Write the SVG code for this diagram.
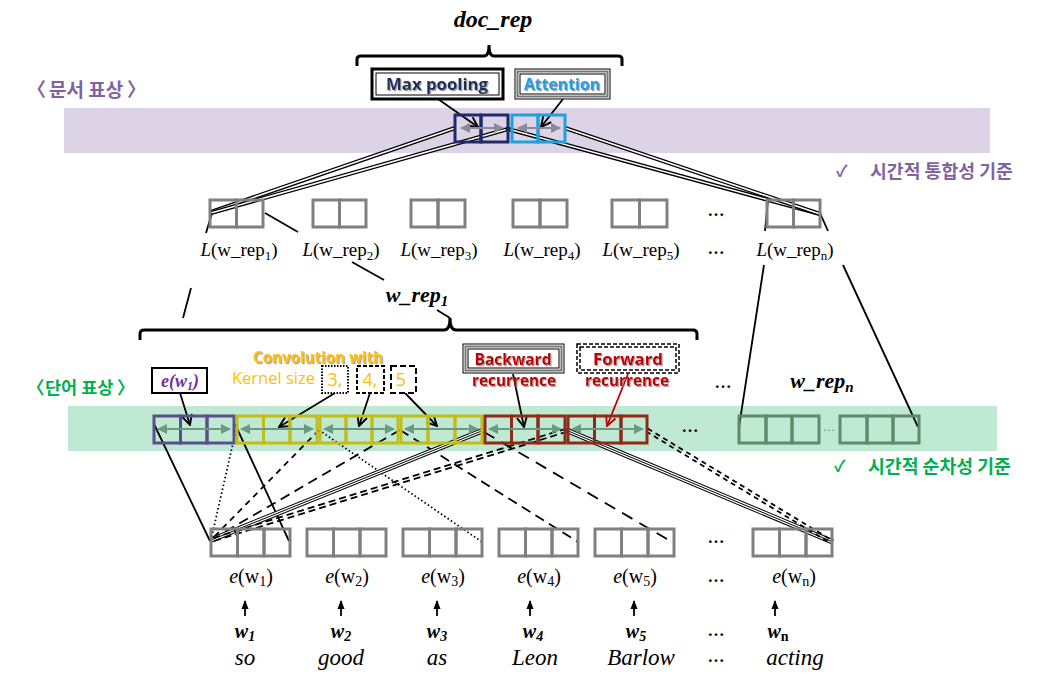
<svg xmlns="http://www.w3.org/2000/svg" width="1048" height="691" viewBox="0 0 1048 691">
<style>
.kr{font-family:"Noto Sans CJK KR","Noto Sans",sans-serif;font-weight:bold}
.m{font-family:"Liberation Serif","DejaVu Serif",serif}
.bi{font-family:"Liberation Serif","DejaVu Serif",serif;font-weight:bold;font-style:italic}
.lbl{font-family:"Open Sans","Noto Sans",sans-serif;font-weight:bold}
.or{font-family:"Open Sans","Noto Sans",sans-serif;fill:#ffc000}
.g{fill:none;stroke:#808080;stroke-width:3}
.nv{fill:none;stroke:#1f2a6b;stroke-width:3}
.lb{fill:none;stroke:#1fa0e0;stroke-width:3}
.pu{fill:none;stroke:#5b4e8c;stroke-width:3}
.ye{fill:none;stroke:#c3bd17;stroke-width:3}
.rd{fill:none;stroke:#8f2a18;stroke-width:3}
.gg{fill:none;stroke:#5e8a6e;stroke-width:3}
.ln{stroke:#000;stroke-width:1.8;fill:none}
.da{stroke:#6a9a82;stroke-width:2;marker-start:url(#ga);marker-end:url(#ga)}
.dg{stroke:#8a8a9a;stroke-width:2;marker-start:url(#gr);marker-end:url(#gr)}
.dbo{stroke:#000;stroke-width:4.2;fill:none}
.dbi{stroke:#fff;stroke-width:1.6;fill:none}
.tro{stroke:#000;stroke-width:5.5;fill:none}
.tri{stroke:#fff;stroke-width:3.5;fill:none}
.trc{stroke:#000;stroke-width:1;fill:none}
.el{font-family:"Liberation Serif","DejaVu Serif",serif;font-size:17px;font-weight:bold}
</style>
<defs>
<marker id="ga" viewBox="0 0 10 10" refX="9" refY="5" markerWidth="5" markerHeight="5" orient="auto-start-reverse" markerUnits="strokeWidth"><path d="M0,0 L10,5 L0,10 z" fill="#6a9a82"/></marker>
<marker id="gr" viewBox="0 0 10 10" refX="9" refY="5" markerWidth="5" markerHeight="5" orient="auto-start-reverse" markerUnits="strokeWidth"><path d="M0,0 L10,5 L0,10 z" fill="#8a8a9a"/></marker>
<marker id="ab" viewBox="0 0 10 10" refX="9" refY="5" markerWidth="7" markerHeight="7" orient="auto" markerUnits="strokeWidth"><path d="M1,1 L9,5 L1,9" fill="none" stroke="#000" stroke-width="1.5"/></marker>
<marker id="ar" viewBox="0 0 10 10" refX="9" refY="5" markerWidth="7" markerHeight="7" orient="auto" markerUnits="strokeWidth"><path d="M1,1 L9,5 L1,9" fill="none" stroke="#c00000" stroke-width="1.5"/></marker>
<marker id="up" viewBox="0 0 10 10" refX="9" refY="5" markerWidth="5" markerHeight="5" orient="auto" markerUnits="strokeWidth"><path d="M0,1 L10,5 L0,9 z" fill="#000"/></marker>
<filter id="sh" x="-10%" y="-10%" width="120%" height="130%"><feDropShadow dx="1.2" dy="1.2" stdDeviation="0.6" flood-color="#888" flood-opacity="0.8"/></filter>
</defs>

<rect width="1048" height="691" fill="#fff"/>
<!-- bands -->
<rect x="64" y="108" width="926" height="45" fill="#dcd4e6"/>
<rect x="68" y="406" width="929" height="45" fill="#bfe9d3"/>

<!-- side labels -->
<g id="lbl-doc"><text class="kr" y="97" font-size="19" fill="#8064a2"><tspan x="27">〈</tspan><tspan x="49">문서 표상</tspan><tspan x="127">〉</tspan></text></g>
<g id="lbl-word"><text class="kr" y="394" font-size="17.5" fill="#00b050"><tspan x="27">〈</tspan><tspan x="45">단어 표상</tspan><tspan x="117">〉</tspan></text></g>
<g id="crit-1"><text class="kr" x="836" y="177" font-size="16" fill="#8064a2">✓</text><text class="kr" x="870" y="178" font-size="18.3" fill="#8064a2">시간적 통합성 기준</text></g>
<g id="crit-2"><text class="kr" x="834" y="472" font-size="16" fill="#00b050">✓</text><text class="kr" x="868" y="473" font-size="18.3" fill="#00b050">시간적 순차성 기준</text></g>

<!-- connectors -->
<g id="connectors">
  <g>
    <line class="dbo" x1="455" y1="128" x2="211" y2="212"/><line class="dbi" x1="455" y1="128" x2="211" y2="212"/>
    <line class="dbo" x1="508" y1="129" x2="211" y2="213"/><line class="dbi" x1="508" y1="129" x2="211" y2="213"/>
    <line class="dbo" x1="508" y1="129" x2="820" y2="214"/><line class="dbi" x1="508" y1="129" x2="820" y2="214"/>
    <line class="dbo" x1="565" y1="128" x2="820" y2="214"/><line class="dbi" x1="565" y1="128" x2="820" y2="214"/>
    <circle cx="508" cy="129" r="2.5" fill="#000"/>
  </g>
  <line class="ln" x1="438" y1="99" x2="478" y2="127" marker-end="url(#ab)"/>
  <line class="ln" x1="563" y1="99" x2="541" y2="127" marker-end="url(#ab)"/>
  <line class="ln" x1="212" y1="213" x2="206" y2="233"/>
  <line class="ln" x1="191" y1="288" x2="183" y2="318"/>
  <line class="ln" x1="265" y1="213" x2="298" y2="232"/>
  <line class="ln" x1="352" y1="262" x2="384" y2="280"/>
  <line class="ln" x1="437" y1="310" x2="450" y2="318"/>
  <line class="ln" x1="768" y1="200" x2="765" y2="231"/>
  <line class="ln" x1="764" y1="265" x2="739" y2="427"/>
  <line class="ln" x1="820" y1="213" x2="828" y2="231"/>
  <line class="ln" x1="843" y1="265" x2="918" y2="427"/>
  <line class="ln" x1="180" y1="393" x2="190" y2="425" marker-end="url(#ab)"/>
  <line class="ln" x1="335" y1="393" x2="279" y2="427" marker-end="url(#ab)"/>
  <line class="ln" x1="370" y1="393" x2="359" y2="426" marker-end="url(#ab)"/>
  <line class="ln" x1="405" y1="393" x2="437" y2="426" marker-end="url(#ab)"/>
  <line class="ln" x1="513" y1="374" x2="524" y2="427" marker-end="url(#ab)"/>
  <line x1="628" y1="374" x2="607" y2="426" stroke="#c00000" stroke-width="1.8" marker-end="url(#ar)"/>
  <line class="ln" x1="154" y1="424" x2="210" y2="541"/>
  <line class="ln" x1="235" y1="424" x2="289" y2="541"/>
  <line class="ln" x1="236" y1="430" x2="211" y2="540" stroke-dasharray="1.5 2.5"/>
  <line class="ln" x1="319" y1="430" x2="211" y2="540" stroke-dasharray="6 5"/>
  <line class="ln" x1="319" y1="430" x2="482" y2="542" stroke-dasharray="1.5 2.5"/>
  <line class="ln" x1="400" y1="430" x2="211" y2="540" stroke-dasharray="10 6" stroke-width="2.2"/>
  <line class="ln" x1="400" y1="430" x2="578" y2="542" stroke-dasharray="10 6" stroke-width="2.2"/>
  <line class="ln" x1="484" y1="432" x2="672" y2="542" stroke-dasharray="12 8" stroke-width="2.2"/>
  <line class="tro" x1="484" y1="430" x2="211" y2="540"/><line class="tri" x1="484" y1="430" x2="211" y2="540"/><line class="trc" x1="484" y1="430" x2="211" y2="540"/>
  <line class="tro" x1="566" y1="430" x2="833" y2="542"/><line class="tri" x1="566" y1="430" x2="833" y2="542"/><line class="trc" x1="566" y1="430" x2="833" y2="542"/>
  <line class="ln" x1="567.5" y1="431.5" x2="212.5" y2="541.5" stroke-dasharray="7 4" stroke-width="1.6"/>
  <line class="ln" x1="566.5" y1="428.5" x2="211.5" y2="538.5" stroke-dasharray="7 4" stroke-width="1.6"/>
  <line class="ln" x1="646.2" y1="431.4" x2="829.2" y2="542.4" stroke-dasharray="5 4" stroke-width="1.6"/>
  <line class="ln" x1="647.8" y1="428.6" x2="830.8" y2="539.6" stroke-dasharray="5 4" stroke-width="1.6"/>
  <line class="ln" x1="245" y1="616" x2="245" y2="601" stroke-width="1.3" marker-end="url(#up)"/>
  <line class="ln" x1="341" y1="616" x2="341" y2="601" stroke-width="1.3" marker-end="url(#up)"/>
  <line class="ln" x1="437" y1="616" x2="437" y2="601" stroke-width="1.3" marker-end="url(#up)"/>
  <line class="ln" x1="530" y1="616" x2="530" y2="601" stroke-width="1.3" marker-end="url(#up)"/>
  <line class="ln" x1="634" y1="616" x2="634" y2="601" stroke-width="1.3" marker-end="url(#up)"/>
  <line class="ln" x1="775" y1="616" x2="775" y2="601" stroke-width="1.3" marker-end="url(#up)"/>
</g>

<g id="doc-rep">
  <text class="bi" x="493" y="27" font-size="24" text-anchor="middle">doc_rep</text>
  <path d="M357,66 L357,59 Q357,56 361,56 L484,56 Q489,56 489,45 Q489,56 494,56 L618,56 Q622,56 622,59 L622,66" fill="none" stroke="#000" stroke-width="3"/>
</g>
<g id="max-pooling">
  <rect x="372" y="69" width="131" height="30" fill="#fff" stroke="#000" stroke-width="3"/>
  <rect x="376" y="73" width="123" height="22" fill="none" stroke="#000" stroke-width="1"/>
  <text class="lbl" x="437" y="90" font-size="16.5" fill="#1f2d5c" text-anchor="middle" filter="url(#sh)" textLength="102" lengthAdjust="spacingAndGlyphs">Max pooling</text>
</g>
<g id="attention">
  <rect x="515" y="69" width="95" height="30" fill="#fff" stroke="#000" stroke-width="1"/>
  <rect x="517.5" y="71.5" width="90" height="25" fill="none" stroke="#777" stroke-width="2"/>
  <rect x="520" y="74" width="85" height="20" fill="none" stroke="#000" stroke-width="1"/>
  <text class="lbl" x="562" y="90" font-size="16.5" fill="#1fa0e0" text-anchor="middle" filter="url(#sh)" textLength="76" lengthAdjust="spacingAndGlyphs">Attention</text>
</g>
<g id="doc-cells">
  <rect class="nv" x="455" y="115" width="26" height="27"/><rect class="nv" x="481" y="115" width="27" height="27"/>
  <rect class="lb" x="512" y="115" width="26" height="27"/><rect class="lb" x="538" y="115" width="27" height="27"/>
  <line class="dg" x1="461" y1="128" x2="503" y2="128"/>
  <line class="dg" x1="518" y1="128" x2="560" y2="128"/>
</g>

<g id="wrep-1"><rect class="g" x="210" y="200" width="26.5" height="27"/><rect class="g" x="236.5" y="200" width="26.5" height="27"/>
  <text class="m" x="239" y="256" font-size="19" text-anchor="middle"><tspan font-style="italic">L</tspan>(w_rep<tspan font-size="13" dy="4">1</tspan><tspan dy="-4">)</tspan></text></g>
<g id="wrep-2"><rect class="g" x="313" y="200" width="26.5" height="27"/><rect class="g" x="339.5" y="200" width="26.5" height="27"/>
  <text class="m" x="341" y="256" font-size="19" text-anchor="middle"><tspan font-style="italic">L</tspan>(w_rep<tspan font-size="13" dy="4">2</tspan><tspan dy="-4">)</tspan></text></g>
<g id="wrep-3"><rect class="g" x="411" y="200" width="27" height="27"/><rect class="g" x="438" y="200" width="27" height="27"/>
  <text class="m" x="439" y="256" font-size="19" text-anchor="middle"><tspan font-style="italic">L</tspan>(w_rep<tspan font-size="13" dy="4">3</tspan><tspan dy="-4">)</tspan></text></g>
<g id="wrep-4"><rect class="g" x="513" y="200" width="27" height="27"/><rect class="g" x="540" y="200" width="27" height="27"/>
  <text class="m" x="542" y="256" font-size="19" text-anchor="middle"><tspan font-style="italic">L</tspan>(w_rep<tspan font-size="13" dy="4">4</tspan><tspan dy="-4">)</tspan></text></g>
<g id="wrep-5"><rect class="g" x="612" y="200" width="27.5" height="27"/><rect class="g" x="639.5" y="200" width="27.5" height="27"/>
  <text class="m" x="641" y="256" font-size="19" text-anchor="middle"><tspan font-style="italic">L</tspan>(w_rep<tspan font-size="13" dy="4">5</tspan><tspan dy="-4">)</tspan></text></g>
<g id="wrep-dots"><text class="el" x="716" y="216" text-anchor="middle">…</text><text class="el" x="716" y="254" text-anchor="middle">…</text></g>
<g id="wrep-n"><rect class="g" x="767" y="200" width="26.5" height="27"/><rect class="g" x="793.5" y="200" width="26.5" height="27"/>
  <text class="m" x="795" y="256" font-size="19" text-anchor="middle"><tspan font-style="italic">L</tspan>(w_rep<tspan font-size="13" dy="4">n</tspan><tspan dy="-4">)</tspan></text></g>

<g id="wrep1-brace">
  <text class="bi" x="417" y="302" font-size="22" text-anchor="middle">w_rep<tspan font-size="15" dy="4">1</tspan></text>
  <path d="M140,340 L140,334 Q140,330 144,330 L444,330 Q450,330 450,318 Q450,330 456,330 L693,330 Q697,330 697,334 L697,340" fill="none" stroke="#000" stroke-width="3"/>
</g>
<g id="wrepn-label"><text class="bi" x="822" y="388" font-size="22" text-anchor="middle">w_rep<tspan font-size="15" dy="4">n</tspan></text></g>
<g id="dots-mid"><text class="el" x="723" y="388" text-anchor="middle">…</text></g>

<g id="e-w1-box">
  <rect x="152" y="368" width="55" height="25" fill="#fff" stroke="#000" stroke-width="2"/>
  <text class="bi" x="180" y="387" font-size="18" fill="#7030a0" text-anchor="middle">e(w<tspan font-size="12" dy="3">1</tspan><tspan dy="-3">)</tspan></text>
</g>
<g id="conv">
  <text class="lbl" x="318" y="363" font-size="16" fill="#ffc000" text-anchor="middle" filter="url(#sh)" textLength="130" lengthAdjust="spacingAndGlyphs">Convolution with</text>
  <text class="or" x="232" y="384" font-size="17" textLength="83" lengthAdjust="spacingAndGlyphs">Kernel size</text>
  <rect x="322" y="366" width="26" height="27" fill="#fff" stroke="#000" stroke-width="2" stroke-dasharray="1.5 1.5"/>
  <text class="or" x="335" y="386" font-size="18" text-anchor="middle">3,</text>
  <rect x="357" y="366" width="27" height="27" fill="#fff" stroke="#000" stroke-width="2" stroke-dasharray="4 2"/>
  <text class="or" x="370" y="386" font-size="18" text-anchor="middle">4,</text>
  <rect x="391" y="366" width="25" height="27" fill="#fff" stroke="#000" stroke-width="2" stroke-dasharray="6 3"/>
  <text class="or" x="401" y="386" font-size="18" text-anchor="middle">5</text>
</g>
<g id="backward">
  <rect x="463" y="344" width="101" height="29" fill="#fff" stroke="#000" stroke-width="1"/>
  <rect x="465.5" y="346.5" width="96" height="24" fill="none" stroke="#777" stroke-width="2"/>
  <rect x="468" y="349" width="91" height="19" fill="none" stroke="#000" stroke-width="1"/>
  <text class="lbl" x="513" y="365" font-size="16" fill="#c00000" text-anchor="middle" filter="url(#sh)" textLength="77" lengthAdjust="spacingAndGlyphs">Backward</text>
  <text class="lbl" x="514" y="386" font-size="16" fill="#c00000" text-anchor="middle" filter="url(#sh)" textLength="84" lengthAdjust="spacingAndGlyphs">recurrence</text>
</g>
<g id="forward">
  <rect x="577" y="344" width="102" height="29" fill="#fff" stroke="#000" stroke-width="1.5" stroke-dasharray="4 2"/>
  <rect x="580" y="347" width="96" height="23" fill="none" stroke="#000" stroke-width="1.5" stroke-dasharray="4 2"/>
  <text class="lbl" x="628" y="365" font-size="16" fill="#c00000" text-anchor="middle" filter="url(#sh)" textLength="70" lengthAdjust="spacingAndGlyphs">Forward</text>
  <text class="lbl" x="627" y="386" font-size="16" fill="#c00000" text-anchor="middle" filter="url(#sh)" textLength="84" lengthAdjust="spacingAndGlyphs">recurrence</text>
</g>

<g id="word-cells">
  <rect class="pu" x="154" y="416" width="26.5" height="27"/><rect class="pu" x="180.5" y="416" width="26.5" height="27"/><rect class="pu" x="207" y="416" width="27" height="27"/>
  <rect class="ye" x="237" y="416" width="26.5" height="27"/><rect class="ye" x="263.5" y="416" width="26.5" height="27"/><rect class="ye" x="290" y="416" width="27" height="27"/>
  <rect class="ye" x="320" y="416" width="26" height="27"/><rect class="ye" x="346" y="416" width="26" height="27"/><rect class="ye" x="372" y="416" width="26" height="27"/>
  <rect class="ye" x="401" y="416" width="27" height="27"/><rect class="ye" x="428" y="416" width="27" height="27"/><rect class="ye" x="455" y="416" width="27" height="27"/>
  <rect class="rd" x="485" y="416" width="26.5" height="27"/><rect class="rd" x="511.5" y="416" width="26.5" height="27"/><rect class="rd" x="538" y="416" width="27" height="27"/>
  <rect class="rd" x="568" y="416" width="26.5" height="27"/><rect class="rd" x="594.5" y="416" width="26.5" height="27"/><rect class="rd" x="621" y="416" width="26" height="27"/>
  <line class="da" x1="158" y1="429" x2="230" y2="429"/>
  <line class="da" x1="241" y1="429" x2="313" y2="429"/>
  <line class="da" x1="324" y1="429" x2="394" y2="429"/>
  <line class="da" x1="405" y1="429" x2="478" y2="429"/>
  <line class="da" x1="489" y1="429" x2="561" y2="429"/>
  <line class="da" x1="572" y1="429" x2="643" y2="429"/>
  <text class="el" x="690" y="432" text-anchor="middle">…</text>
</g>
<g id="wrep-n-cells">
  <rect class="gg" x="739" y="416" width="27" height="27"/><rect class="gg" x="766" y="416" width="26" height="27"/><rect class="gg" x="792" y="416" width="27" height="27"/>
  <text class="m" x="829" y="431" font-size="12" fill="#5e8a6e" text-anchor="middle">…</text>
  <rect class="gg" x="840" y="416" width="27" height="27"/><rect class="gg" x="867" y="416" width="26" height="27"/><rect class="gg" x="893" y="416" width="26" height="27"/>
</g>

<g id="emb-1"><rect class="g" x="211" y="529" width="26.5" height="27"/><rect class="g" x="237.5" y="529" width="26.5" height="27"/><rect class="g" x="264" y="529" width="26" height="27"/>
  <text class="m" x="251" y="583" font-size="20" text-anchor="middle"><tspan font-style="italic">e</tspan>(w<tspan font-size="14" dy="3">1</tspan><tspan dy="-3">)</tspan></text>
  <text class="bi" x="245" y="638" font-size="20" text-anchor="middle">w<tspan font-size="14" dy="3">1</tspan></text>
  <text class="m" x="245" y="665" font-size="23" font-style="italic" text-anchor="middle">so</text></g>
<g id="emb-2"><rect class="g" x="307" y="529" width="26.5" height="27"/><rect class="g" x="333.5" y="529" width="26.5" height="27"/><rect class="g" x="360" y="529" width="26" height="27"/>
  <text class="m" x="347" y="583" font-size="20" text-anchor="middle"><tspan font-style="italic">e</tspan>(w<tspan font-size="14" dy="3">2</tspan><tspan dy="-3">)</tspan></text>
  <text class="bi" x="341" y="638" font-size="20" text-anchor="middle">w<tspan font-size="14" dy="3">2</tspan></text>
  <text class="m" x="341" y="665" font-size="23" font-style="italic" text-anchor="middle">good</text></g>
<g id="emb-3"><rect class="g" x="403" y="529" width="26.5" height="27"/><rect class="g" x="429.5" y="529" width="26.5" height="27"/><rect class="g" x="456" y="529" width="26" height="27"/>
  <text class="m" x="443" y="583" font-size="20" text-anchor="middle"><tspan font-style="italic">e</tspan>(w<tspan font-size="14" dy="3">3</tspan><tspan dy="-3">)</tspan></text>
  <text class="bi" x="437" y="638" font-size="20" text-anchor="middle">w<tspan font-size="14" dy="3">3</tspan></text>
  <text class="m" x="437" y="665" font-size="23" font-style="italic" text-anchor="middle">as</text></g>
<g id="emb-4"><rect class="g" x="499" y="529" width="26.5" height="27"/><rect class="g" x="525.5" y="529" width="26.5" height="27"/><rect class="g" x="552" y="529" width="26" height="27"/>
  <text class="m" x="539" y="583" font-size="20" text-anchor="middle"><tspan font-style="italic">e</tspan>(w<tspan font-size="14" dy="3">4</tspan><tspan dy="-3">)</tspan></text>
  <text class="bi" x="533" y="638" font-size="20" text-anchor="middle">w<tspan font-size="14" dy="3">4</tspan></text>
  <text class="m" x="535" y="665" font-size="23" font-style="italic" text-anchor="middle">Leon</text></g>
<g id="emb-5"><rect class="g" x="595" y="529" width="26.5" height="27"/><rect class="g" x="621.5" y="529" width="26.5" height="27"/><rect class="g" x="648" y="529" width="26" height="27"/>
  <text class="m" x="635" y="583" font-size="20" text-anchor="middle"><tspan font-style="italic">e</tspan>(w<tspan font-size="14" dy="3">5</tspan><tspan dy="-3">)</tspan></text>
  <text class="bi" x="636" y="638" font-size="20" text-anchor="middle">w<tspan font-size="14" dy="3">5</tspan></text>
  <text class="m" x="641" y="665" font-size="23" font-style="italic" text-anchor="middle">Barlow</text></g>
<g id="emb-dots"><text class="el" x="716" y="543" text-anchor="middle">…</text><text class="el" x="716" y="582" text-anchor="middle">…</text><text class="el" x="716" y="636" text-anchor="middle">…</text><text class="el" x="716" y="662" text-anchor="middle">…</text></g>
<g id="emb-n"><rect class="g" x="753" y="529" width="26.5" height="27"/><rect class="g" x="779.5" y="529" width="26.5" height="27"/><rect class="g" x="806" y="529" width="26" height="27"/>
  <text class="m" x="794" y="583" font-size="20" text-anchor="middle"><tspan font-style="italic">e</tspan>(w<tspan font-size="14" dy="3">n</tspan><tspan dy="-3">)</tspan></text>
  <text class="bi" x="778" y="638" font-size="20" text-anchor="middle">w<tspan font-size="14" dy="3" font-style="normal">n</tspan></text>
  <text class="m" x="795" y="665" font-size="23" font-style="italic" text-anchor="middle">acting</text></g>
</svg>
